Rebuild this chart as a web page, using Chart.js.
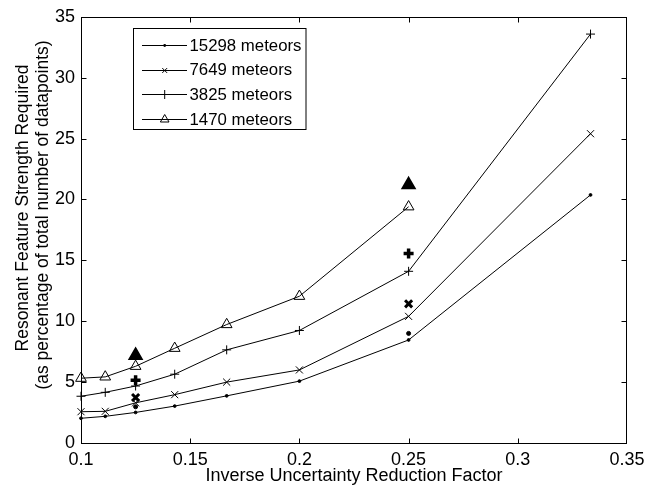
<!DOCTYPE html>
<html><head><meta charset="utf-8">
<script src="https://cdn.jsdelivr.net/npm/chart.js@4.4.0/dist/chart.umd.min.js"></script>
<style>html,body{margin:0;padding:0;background:#fff;}#wrap{width:658px;height:487px;}</style>
</head><body><div id="wrap"><canvas id="c" width="658" height="487"></canvas></div>
<script>
// ---- data ----
const xValues = [0.1, 0.1111, 0.125, 0.1429, 0.1667, 0.2, 0.25, 0.3333];
const seriesNames = ['15298 meteors', '7649 meteors', '3825 meteors', '1470 meteors'];
const s15298 = [2.03, 2.19, 2.51, 3.03, 3.87, 5.08, 8.46, 20.37];
const s7649  = [2.57, 2.60, 3.30, 3.97, 5.00, 6.00, 10.4, 25.4];
const s3825  = [3.84, 4.16, 4.68, 5.65, 7.65, 9.24, 14.1, 33.58];
const s1470  = [5.32, 5.43, 6.30, 7.78, 9.73, 12.05, 19.4];
const boldXValues = [0.125, 0.25];
const b15298 = [2.97, 9.0];
const b7649  = [3.73, 11.43];
const b3825  = [5.16, 15.56];
const b1470  = [7.19, 21.2];
const xTickValues = [0.1, 0.15, 0.2, 0.25, 0.3, 0.35];
const yTickValues = [0, 5, 10, 15, 20, 25, 30, 35];
const xTitle = 'Inverse Uncertainty Reduction Factor';
const yTitleLines = ['Resonant Feature Strength Required', '(as percentage of total number of datapoints)'];

const FONT = '"Liberation Sans", Arial, Helvetica, sans-serif';
const pts = (xs, ys) => ys.map((y, i) => ({x: xs[i], y: y}));

const lineStyles = [
  {pointStyle: 'circle', pointRadius: 1.4, backgroundColor: '#000', legendRadius: 1.4},
  {pointStyle: 'crossRot', pointRadius: 5, backgroundColor: 'rgba(0,0,0,0)', legendRadius: 3.5},
  {pointStyle: 'cross', pointRadius: 4.5, backgroundColor: 'rgba(0,0,0,0)', legendRadius: 4.5},
  {pointStyle: 'triangle', pointRadius: 6.2, backgroundColor: 'rgba(0,0,0,0)', legendRadius: 5}
];
const lineData = [s15298, s7649, s3825, s1470];
const boldData = [b15298, b7649, b3825, b1470];

const datasets = [];
lineData.forEach((d, i) => {
  const st = lineStyles[i];
  datasets.push({
    label: seriesNames[i], data: pts(xValues, d), showLine: true,
    borderColor: '#000', borderWidth: 1, backgroundColor: st.backgroundColor,
    pointStyle: st.pointStyle, pointRadius: st.pointRadius, pointBorderWidth: 1,
    pointBorderColor: '#000', pointBackgroundColor: st.backgroundColor, clip: false
  });
});
const boldStyles = [
  {pointStyle: 'circle', pointRadius: 2, bg: '#000', bw: 1},
  {pointStyle: 'crossRot', pointRadius: 5, bg: 'rgba(0,0,0,0)', bw: 3},
  {pointStyle: 'cross', pointRadius: 5, bg: 'rgba(0,0,0,0)', bw: 3.5},
  {pointStyle: 'triangle', pointRadius: 6.5, bg: '#000', bw: 2.5}
];
boldData.forEach((d, i) => {
  const st = boldStyles[i];
  datasets.push({
    label: 'bold ' + seriesNames[i], data: pts(boldXValues, d), showLine: false,
    pointStyle: st.pointStyle, pointRadius: st.pointRadius, pointBorderWidth: st.bw,
    pointBorderColor: '#000', pointBackgroundColor: st.bg, clip: false
  });
});
// small hollow centre inside the bold triangles
datasets.push({
  label: 'bold centre', data: pts(boldXValues, b1470), showLine: false,
  pointStyle: 'triangle', pointRadius: 2.4, pointBorderWidth: 0.8,
  pointBorderColor: '#000', pointBackgroundColor: '#fff', clip: false
});

function drawMarker(ctx, style, r, x, y, fill) {
  ctx.save();
  ctx.strokeStyle = '#000'; ctx.lineWidth = 1; ctx.fillStyle = fill;
  ctx.beginPath();
  if (style === 'circle') { ctx.arc(x, y, r, 0, Math.PI * 2); ctx.fill(); }
  else if (style === 'crossRot') {
    ctx.moveTo(x - r * 0.7, y - r * 0.7); ctx.lineTo(x + r * 0.7, y + r * 0.7);
    ctx.moveTo(x - r * 0.7, y + r * 0.7); ctx.lineTo(x + r * 0.7, y - r * 0.7); ctx.stroke();
  } else if (style === 'cross') {
    ctx.moveTo(x - r, y); ctx.lineTo(x + r, y); ctx.moveTo(x, y - r); ctx.lineTo(x, y + r); ctx.stroke();
  } else if (style === 'triangle') {
    ctx.moveTo(x, y - r); ctx.lineTo(x + r * 0.866, y + r * 0.5); ctx.lineTo(x - r * 0.866, y + r * 0.5);
    ctx.closePath(); ctx.stroke();
  }
  ctx.restore();
}

const framePlugin = {
  id: 'frame',
  afterDraw(chart) {
    const ctx = chart.ctx, a = chart.chartArea;
    const xs = chart.scales.x, ys = chart.scales.y;
    const L0 = Math.round(a.left) + 0.5, R0 = Math.round(a.right) - 0.5;
    const T0 = Math.round(a.top) + 0.5, B0 = Math.round(a.bottom) + 0.5;
    ctx.save();
    ctx.strokeStyle = '#000'; ctx.lineWidth = 1;
    ctx.strokeRect(L0, T0, R0 - L0, B0 - T0);
    ctx.beginPath();
    const tl = 5;
    xs.ticks.forEach(t => {
      const px = Math.round(xs.getPixelForValue(t.value)) + 0.5;
      if (px <= L0 + 1 || px >= R0 - 1) return;
      ctx.moveTo(px, B0); ctx.lineTo(px, B0 - tl);
      ctx.moveTo(px, T0); ctx.lineTo(px, T0 + tl);
    });
    ys.ticks.forEach(t => {
      const py = Math.round(ys.getPixelForValue(t.value)) + 0.5;
      if (py <= T0 + 1 || py >= B0 - 1) return;
      ctx.moveTo(L0, py); ctx.lineTo(L0 + tl, py);
      ctx.moveTo(R0, py); ctx.lineTo(R0 - tl, py);
    });
    ctx.stroke();
    // y title (two centred lines)
    ctx.fillStyle = '#000';
    ctx.font = '17.5px ' + FONT;
    ctx.textAlign = 'center'; ctx.textBaseline = 'middle';
    const cx = [23, 43], cy = [208, 215];
    yTitleLines.forEach((line, i) => {
      ctx.save(); ctx.translate(cx[i], cy[i]); ctx.rotate(-Math.PI / 2);
      ctx.fillText(line, 0, 0); ctx.restore();
    });
    // legend
    const L = {x: 133.5, y: 28.5, w: 172.5, h: 101};
    ctx.fillStyle = '#fff';
    ctx.fillRect(L.x, L.y, L.w, L.h);
    ctx.strokeRect(L.x, L.y, L.w, L.h);
    const rowY = [45, 69.7, 94.3, 119];
    ctx.font = '16.8px ' + FONT;
    ctx.textAlign = 'left';
    seriesNames.forEach((name, i) => {
      const y = Math.round(rowY[i]) + 0.5;
      ctx.beginPath(); ctx.moveTo(142, y); ctx.lineTo(187, y); ctx.stroke();
      drawMarker(ctx, lineStyles[i].pointStyle, lineStyles[i].legendRadius, 164.7, y,
        i === 0 ? '#000' : 'rgba(0,0,0,0)');
      ctx.fillStyle = '#000';
      ctx.fillText(name, 189.5, rowY[i] + 1);
    });
    ctx.restore();
  }
};

new Chart(document.getElementById('c'), {
  type: 'scatter',
  data: {datasets: datasets},
  plugins: [framePlugin],
  options: {
    responsive: false, animation: false, devicePixelRatio: 1,
    layout: {padding: {top: 12, right: 31, left: 0, bottom: 0}},
    plugins: {legend: {display: false}, tooltip: {enabled: false}},
    scales: {
      x: {
        type: 'linear', min: 0.1, max: 0.35,
        afterBuildTicks: s => { s.ticks = xTickValues.map(v => ({value: v})); },
        afterFit: s => { s.height = 44; },
        grid: {display: false, drawTicks: false}, border: {display: false},
        ticks: {color: '#000', padding: 6, font: {family: FONT, size: 18},
          maxRotation: 0, autoSkip: false,
          callback: v => String(parseFloat(Number(v).toFixed(2)))},
        title: {display: true, text: xTitle, color: '#000', font: {family: FONT, size: 18},
          padding: {top: 0, bottom: 0}}
      },
      y: {
        type: 'linear', min: 0, max: 35,
        afterBuildTicks: s => { s.ticks = yTickValues.map(v => ({value: v})); },
        afterFit: s => { s.width = 81; },
        grid: {display: false, drawTicks: false}, border: {display: false},
        ticks: {color: '#000', padding: 6, font: {family: FONT, size: 18}, autoSkip: false,
          callback: v => String(v)}
      }
    }
  }
});
</script></body></html>
